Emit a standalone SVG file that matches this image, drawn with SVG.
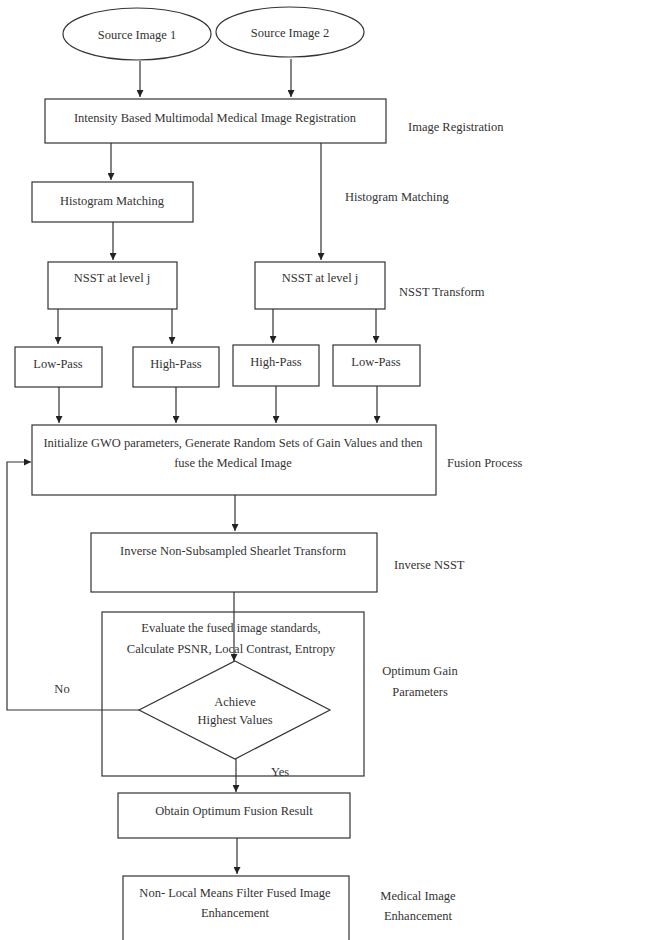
<svg xmlns="http://www.w3.org/2000/svg" width="646" height="940" viewBox="0 0 646 940">
<style>
.n{fill:#fff;stroke:#333;stroke-width:1.2}
.o{fill:none;stroke:#333;stroke-width:1.2}
.c{fill:none;stroke:#333;stroke-width:1.2}
text{font-family:"Liberation Serif","Times New Roman",serif;font-size:12.5px;fill:#333;text-anchor:middle}
.l{text-anchor:start}
</style>
<defs>
<marker id="a" viewBox="0 0 10 10" refX="10" refY="5" markerWidth="7" markerHeight="7" markerUnits="userSpaceOnUse" orient="auto"><path d="M0,0 L10,5 L0,10 z" fill="#222"/></marker>
</defs>
<rect width="646" height="940" fill="#fff"/>
<g id="evaluate"><rect class="o" x="102" y="612" width="262" height="164"/><text x="231" y="632">Evaluate the fused image standards,</text><text x="231" y="653">Calculate PSNR, Local Contrast, Entropy</text></g>
<g id="decision"><path class="n" d="M235,661 L330,710 L235,759 L139,710 Z"/><text x="235" y="706">Achieve</text><text x="235" y="724">Highest Values</text></g>
<g id="connectors">
<path class="c" d="M140,61 V97" marker-end="url(#a)"/>
<path class="c" d="M291,59 V97" marker-end="url(#a)"/>
<path class="c" d="M111,143 V180" marker-end="url(#a)"/>
<path class="c" d="M321,143 V260" marker-end="url(#a)"/>
<path class="c" d="M113,222 V260" marker-end="url(#a)"/>
<path class="c" d="M58,309 V344" marker-end="url(#a)"/>
<path class="c" d="M172,309 V344" marker-end="url(#a)"/>
<path class="c" d="M273,309 V343" marker-end="url(#a)"/>
<path class="c" d="M376,309 V343" marker-end="url(#a)"/>
<path class="c" d="M59,387 V423" marker-end="url(#a)"/>
<path class="c" d="M176,387 V423" marker-end="url(#a)"/>
<path class="c" d="M276,386 V423" marker-end="url(#a)"/>
<path class="c" d="M377,386 V423" marker-end="url(#a)"/>
<path class="c" d="M235,495 V531" marker-end="url(#a)"/>
<path class="c" d="M234,592 V661" marker-end="url(#a)"/>
<path class="c" d="M139,710 H7 V462 H31" marker-end="url(#a)"/>
<path class="c" d="M236,759 V792" marker-end="url(#a)"/>
<path class="c" d="M237,838 V874" marker-end="url(#a)"/>
</g>
<g id="src1"><ellipse class="n" cx="137" cy="34" rx="74" ry="26"/><text x="137" y="39">Source Image 1</text></g>
<g id="src2"><ellipse class="n" cx="290" cy="32" rx="74" ry="25"/><text x="290" y="37">Source Image 2</text></g>
<g id="registration"><rect class="n" x="45" y="99" width="341" height="44"/><text x="215" y="122">Intensity Based Multimodal Medical Image Registration</text></g>
<g id="histogram"><rect class="n" x="32" y="182" width="161" height="40"/><text x="112" y="205">Histogram Matching</text></g>
<g id="nsst1"><rect class="n" x="48" y="262" width="129" height="47"/><text x="112" y="282">NSST at level j</text></g>
<g id="nsst2"><rect class="n" x="255" y="262" width="130" height="47"/><text x="320" y="282">NSST at level j</text></g>
<g id="low1"><rect class="n" x="15" y="347" width="87" height="40"/><text x="58" y="368">Low-Pass</text></g>
<g id="high1"><rect class="n" x="133" y="347" width="86" height="40"/><text x="176" y="368">High-Pass</text></g>
<g id="high2"><rect class="n" x="233" y="345" width="86" height="41"/><text x="276" y="366">High-Pass</text></g>
<g id="low2"><rect class="n" x="333" y="345" width="87" height="41"/><text x="376" y="366">Low-Pass</text></g>
<g id="fusion"><rect class="n" x="32" y="425" width="404" height="70"/><text x="233" y="447">Initialize GWO parameters, Generate Random Sets of Gain Values and then</text><text x="233" y="467">fuse the Medical Image</text></g>
<g id="inverse"><rect class="n" x="91" y="533" width="286" height="59"/><text x="233" y="555">Inverse Non-Subsampled Shearlet Transform</text></g>
<g id="obtain"><rect class="n" x="118" y="793" width="232" height="45"/><text x="234" y="815">Obtain Optimum Fusion Result</text></g>
<g id="nlm"><rect class="n" x="123" y="876" width="226" height="90"/><text x="235" y="897">Non- Local Means Filter Fused Image</text><text x="235" y="917">Enhancement</text></g>
<g id="labels">
<text class="l" x="408" y="131">Image Registration</text>
<text class="l" x="345" y="201">Histogram Matching</text>
<text class="l" x="399" y="296">NSST Transform</text>
<text class="l" x="447" y="467">Fusion Process</text>
<text class="l" x="394" y="569">Inverse NSST</text>
<text x="420" y="675">Optimum Gain</text>
<text x="420" y="696">Parameters</text>
<text x="62" y="693">No</text>
<text x="280" y="776">Yes</text>
<text x="418" y="900">Medical Image</text>
<text x="418" y="920">Enhancement</text>
</g>
</svg>
